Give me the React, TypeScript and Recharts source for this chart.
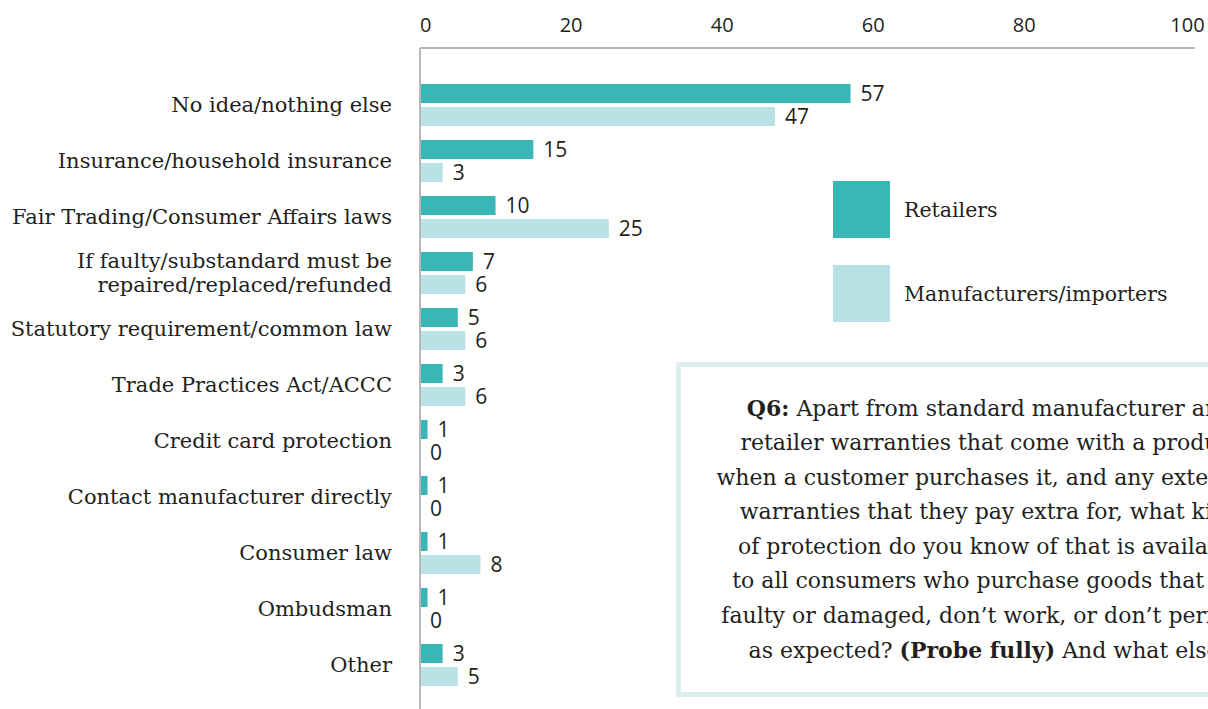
import { BarChart, Bar, XAxis, YAxis, Legend, LabelList } from "recharts"

const categories = [
  "No idea/nothing else",
  "Insurance/household insurance",
  "Fair Trading/Consumer Affairs laws",
  "If faulty/substandard must be\nrepaired/replaced/refunded",
  "Statutory requirement/common law",
  "Trade Practices Act/ACCC",
  "Credit card protection",
  "Contact manufacturer directly",
  "Consumer law",
  "Ombudsman",
  "Other",
]
const retailers = [57, 15, 10, 7, 5, 3, 1, 1, 1, 1, 3]
const manufacturers = [47, 3, 25, 6, 6, 6, 0, 0, 8, 0, 5]
const xTicks = [0, 20, 40, 60, 80, 100]
const seriesOrder = ["retailers", "manufacturers"]

const questionLines = [
  [{ b: true, t: "Q6:" }, { b: false, t: " Apart from standard manufacturer and" }],
  [{ b: false, t: "retailer warranties that come with a product" }],
  [{ b: false, t: "when a customer purchases it, and any extended" }],
  [{ b: false, t: "warranties that they pay extra for, what kind" }],
  [{ b: false, t: "of protection do you know of that is available" }],
  [{ b: false, t: "to all consumers who purchase goods that are" }],
  [{ b: false, t: "faulty or damaged, don\u2019t work, or don\u2019t perform" }],
  [{ b: false, t: "as expected? " }, { b: true, t: "(Probe fully)" }, { b: false, t: " And what else?" }],
]

const TEAL = "#3ab6b8"
const LIGHT = "#bae1e5"
const INK = "#231f20"
const AXIS = "#b8b8b8"
const SERIF = "'DejaVu Serif', serif"
const SANS = "'Open Sans', sans-serif"

const data = categories.map((name, i) => ({
  name,
  retailers: retailers[i],
  manufacturers: manufacturers[i],
}))

function XTick(props: any) {
  const { x, y, payload } = props
  const v = payload.value
  // end ticks sit inside, like the original
  const anchor = v === 0 || v === 100 ? "start" : "middle"
  return (
    <text x={v === 100 ? x - 5 : x} y={y} textAnchor={anchor} fill={INK} fontSize={20} fontFamily={SANS}>
      {v}
    </text>
  )
}

function YTick(props: any) {
  const { x, y, payload } = props
  const lines = String(payload.value).split("\n")
  const lh = 24
  const start = y - ((lines.length - 1) * lh) / 2
  return (
    <text x={x} y={start} textAnchor="end" fill={INK} fontSize={21} fontFamily={SERIF}>
      {lines.map((l, i) => (
        <tspan key={i} x={x} y={start + i * lh} dy="0.35em">
          {l}
        </tspan>
      ))}
    </text>
  )
}

function renderLegend(props: any) {
  const items = [...(props.payload || [])].sort(
    (a: any, b: any) => seriesOrder.indexOf(a.dataKey) - seriesOrder.indexOf(b.dataKey)
  )
  return (
    <div>
      {items.map((e: any, i: number) => (
        <div
          key={i}
          style={{ display: "flex", alignItems: "center", height: 57, marginBottom: i === 0 ? 27 : 0 }}
        >
          <div style={{ width: 57, height: 57, background: e.color }} />
          <span style={{ marginLeft: 14, fontFamily: SERIF, fontSize: 20.5, color: INK }}>{e.value}</span>
        </div>
      ))}
    </div>
  )
}

export default function App() {
  return (
    <div
      style={{
        position: "absolute",
        left: 0,
        top: 0,
        width: 1208,
        height: 709,
        overflow: "hidden",
        background: "#fff",
      }}
    >
      <BarChart
        width={1208}
        height={709}
        data={data}
        layout="vertical"
        margin={{ top: 0, right: 13, bottom: 0, left: 0 }}
        barSize={19}
        barGap={4}
      >
        <XAxis
          type="number"
          orientation="top"
          domain={[0, 102.6]}
          ticks={xTicks}
          height={48}
          axisLine={{ stroke: AXIS, strokeWidth: 2 }}
          tickLine={false}
          tickSize={0}
          tickMargin={16}
          tick={<XTick />}
        />
        <YAxis
          type="category"
          dataKey="name"
          width={420}
          interval={0}
          padding={{ top: 29, bottom: 16 }}
          axisLine={{ stroke: AXIS, strokeWidth: 2 }}
          tickLine={false}
          tickSize={0}
          tickMargin={28}
          tick={<YTick />}
        />
        <Legend
          layout="vertical"
          verticalAlign="middle"
          align="center"
          wrapperStyle={{ position: "absolute", left: 833, top: 181, width: 360 }}
          content={renderLegend}
        />
        <Bar dataKey="retailers" name="Retailers" fill={TEAL} minPointSize={0.01} isAnimationActive={false}>
          <LabelList dataKey="retailers" position="right" offset={10} fill={INK} fontSize={21} fontFamily={SANS} />
        </Bar>
        <Bar dataKey="manufacturers" name="Manufacturers/importers" fill={LIGHT} minPointSize={0.01} isAnimationActive={false}>
          <LabelList dataKey="manufacturers" position="right" offset={10} fill={INK} fontSize={21} fontFamily={SANS} />
        </Bar>
      </BarChart>
      <div
        style={{
          position: "absolute",
          left: 676,
          top: 362,
          width: 628,
          height: 335,
          boxSizing: "border-box",
          border: "5px solid #dcefef",
          background: "#fff",
          display: "flex",
          flexDirection: "column",
          justifyContent: "center",
          alignItems: "center",
          fontFamily: SERIF,
          fontSize: 22,
          lineHeight: "34.5px",
          color: INK,
          textAlign: "center",
          whiteSpace: "nowrap",
        }}
      >
        {questionLines.map((line, i) => (
          <div key={i}>
            {line.map((p, j) => (
              <span key={j} style={{ fontWeight: p.b ? 700 : 400 }}>
                {p.t}
              </span>
            ))}
          </div>
        ))}
      </div>
    </div>
  )
}
